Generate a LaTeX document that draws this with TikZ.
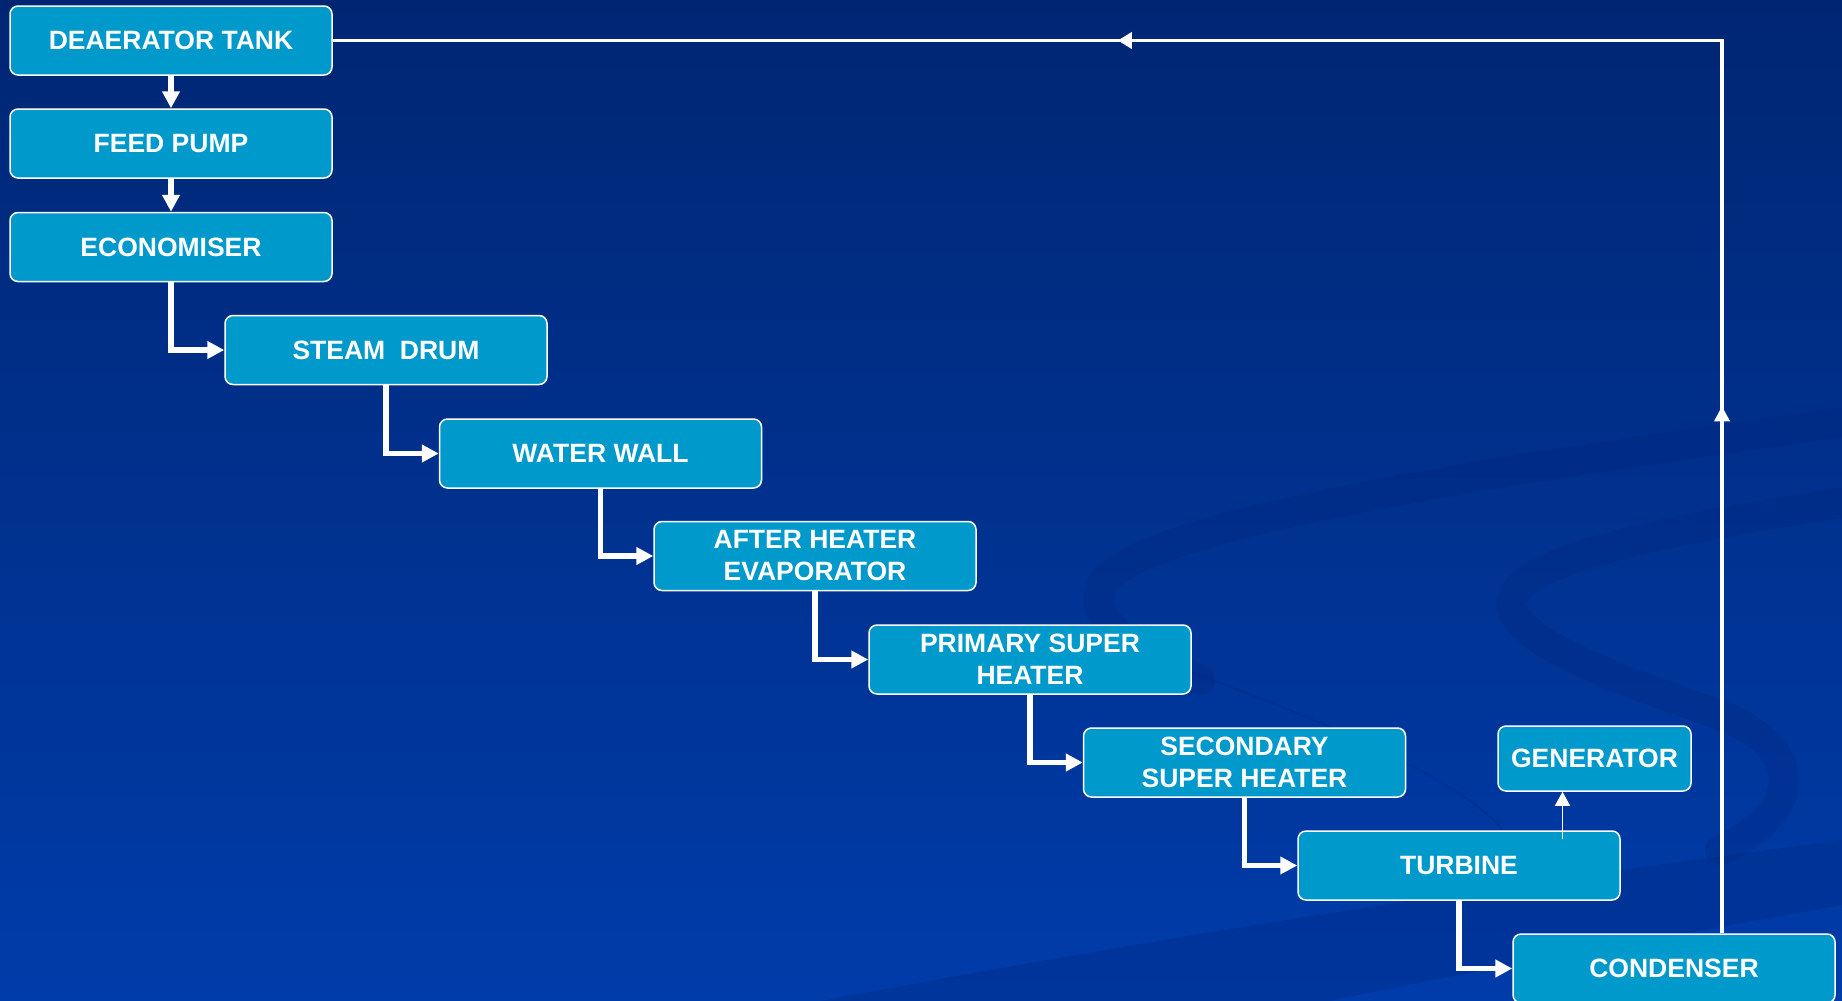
\documentclass[tikz,border=0pt]{standalone}
\usepackage{fontspec}
\setmainfont{Liberation Sans}
\usetikzlibrary{arrows.meta,decorations.markings}
\definecolor{boxfill}{RGB}{0,153,204}
\definecolor{bgtop}{RGB}{0,38,115}
\definecolor{bgbot}{RGB}{0,60,170}
\definecolor{swooshc}{RGB}{0,38,125}
\begin{document}
\begin{tikzpicture}[x=1pt,y=-1pt,
  stagebox/.style={draw=white, line width=1.5pt, fill=boxfill, rounded corners=8pt,
    minimum width=322pt, minimum height=69pt, inner sep=0pt, text=white,
    font=\fontsize{26.5}{32}\selectfont\bfseries, align=center},
  flow/.style={draw=white, line width=5.5pt, -{Triangle[length=17pt,width=17pt]}},
  genarrow/.style={draw=white, line width=1.6pt, -{Triangle[length=14pt,width=15pt]}},
  retline/.style={draw=white, line width=3.5pt},
  swoosh/.style={draw=swooshc, opacity=0.3, line cap=round}
]
\useasboundingbox (0,0) rectangle (1842,1001);
\fill[top color=bgtop, bottom color=bgbot] (0,0) rectangle (1842,1001);
% decorative swooshes
\begin{scope}
\clip (0,0) rectangle (1842,1001);
\fill[swooshc, opacity=0.3] (820,1001) .. controls (1200,930) and (1500,885) .. (1842,840)
  -- (1842,905) .. controls (1650,940) and (1450,975) .. (1330,1001) -- cycle;
\draw[swoosh, line width=30pt] (1860,420) .. controls (1500,470) and (1160,520) .. (1105,580)
  .. controls (1085,610) and (1110,640) .. (1200,680);
\draw[swoosh, line width=2pt] (1190,672) .. controls (1350,730) and (1480,790) .. (1510,840);
\draw[swoosh, line width=30pt] (1860,500) .. controls (1660,530) and (1520,560) .. (1512,600)
  .. controls (1505,640) and (1620,680) .. (1720,715) .. controls (1810,750) and (1800,815) .. (1720,850);
\end{scope}
% boxes
\node[stagebox] (dea) at (171,40.5) {DEAERATOR TANK};
\node[stagebox] (feed) at (171,143.5) {FEED PUMP};
\node[stagebox] (eco) at (171,247) {ECONOMISER};
\node[stagebox] (drum) at (386,350) {STEAM\ \ DRUM};
\node[stagebox] (wall) at (600.5,453.5) {WATER WALL};
\node[stagebox] (evap) at (815,556) {AFTER HEATER\\EVAPORATOR};
\node[stagebox] (psh) at (1030,659.5) {PRIMARY SUPER\\HEATER};
\node[stagebox] (ssh) at (1244.5,762.5) {SECONDARY\\SUPER HEATER};
\node[stagebox] (turb) at (1459,865.5) {TURBINE};
\node[stagebox] (cond) at (1674,968.5) {CONDENSER};
\node[stagebox, minimum width=193pt, minimum height=65pt] (gen) at (1594.5,758.5) {GENERATOR};
% flow connectors
\draw[flow] (dea.south) -- (feed.north);
\draw[flow] (feed.south) -- (eco.north);
\draw[flow] (eco.south) |- (drum.west);
\draw[flow] (drum.south) |- (wall.west);
\draw[flow] (wall.south) |- (evap.west);
\draw[flow] (evap.south) |- (psh.west);
\draw[flow] (psh.south) |- (ssh.west);
\draw[flow] (ssh.south) |- (turb.west);
\draw[flow] (turb.south) |- (cond.west);
% turbine to generator
\coordinate (gtap) at (1562.5,839);
\draw[genarrow] (gtap) -- (gtap |- gen.south);
% return line condenser to deaerator
\coordinate (rt) at (1722,0);
\draw[retline, postaction={decorate, decoration={markings,
    mark=at position 527pt with {\arrow{Triangle[length=15pt,width=15pt]}},
    mark=at position 1497pt with {\arrow{Triangle[length=14pt,width=16pt]}}}}]
  (cond.north -| rt) |- (dea.east);
\end{tikzpicture}
\end{document}
